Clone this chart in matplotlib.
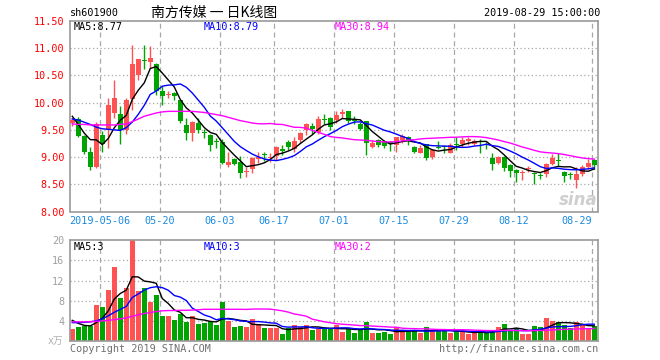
import numpy as np
import pandas as pd
import matplotlib
matplotlib.use("Agg")
import matplotlib.pyplot as plt

# ---------------- data ----------------
opens = [9.62, 9.70, 9.39, 9.09, 8.81, 9.41, 9.50, 9.81, 9.79, 9.49,
         10.06, 10.51, 10.78, 10.74, 10.71, 10.22, 10.14, 10.18, 10.05, 9.59,
         9.45, 9.63, 9.46, 9.41, 9.30, 9.28, 8.85, 8.96, 8.91, 8.72,
         8.79, 8.97, 9.06, 8.98, 9.02, 9.14, 9.28, 9.14, 9.31, 9.49,
         9.57, 9.46, 9.70, 9.72, 9.69, 9.80, 9.84, 9.67, 9.60, 9.66,
         9.18, 9.31, 9.27, 9.26, 9.22, 9.31, 9.37, 9.18, 9.08, 9.24,
         9.01, 9.18, 9.19, 9.08, 9.23, 9.24, 9.29, 9.24, 9.29, 9.23,
         8.99, 8.89, 9.01, 8.86, 8.77, 8.70, 8.78, 8.70, 8.67, 8.68,
         8.87, 8.93, 8.72, 8.68, 8.58, 8.69, 8.82, 8.94]
highs = [9.72, 9.73, 9.41, 9.18, 9.64, 9.48, 10.08, 10.42, 9.93, 10.08,
         11.06, 10.80, 11.06, 11.04, 10.72, 10.30, 10.21, 10.20, 10.05, 9.71,
         9.66, 9.71, 9.51, 9.43, 9.35, 9.34, 9.10, 8.99, 9.02, 8.82,
         9.00, 9.09, 9.10, 9.07, 9.20, 9.22, 9.32, 9.37, 9.46, 9.62,
         9.62, 9.76, 9.79, 9.74, 9.84, 9.88, 9.85, 9.75, 9.65, 9.66,
         9.32, 9.34, 9.31, 9.30, 9.37, 9.42, 9.38, 9.20, 9.23, 9.24,
         9.14, 9.29, 9.22, 9.25, 9.37, 9.37, 9.36, 9.33, 9.33, 9.27,
         9.08, 9.02, 9.02, 8.88, 8.79, 8.76, 8.84, 8.73, 8.71, 8.89,
         9.05, 9.08, 8.75, 8.73, 8.81, 8.85, 8.97, 8.96]
lows = [9.58, 9.36, 9.06, 8.76, 8.80, 9.10, 9.17, 9.71, 9.24, 9.43,
        9.87, 10.42, 10.61, 10.63, 10.14, 9.96, 10.08, 10.05, 9.63, 9.32,
        9.30, 9.45, 9.35, 9.12, 9.16, 8.87, 8.82, 8.86, 8.62, 8.64,
        8.70, 8.90, 8.93, 8.91, 8.95, 9.04, 9.13, 9.10, 9.25, 9.40,
        9.43, 9.43, 9.60, 9.50, 9.62, 9.71, 9.63, 9.60, 9.49, 9.04,
        9.16, 9.18, 9.17, 9.11, 9.10, 9.26, 9.23, 9.07, 9.07, 8.95,
        8.96, 9.14, 9.07, 9.07, 9.13, 9.19, 9.22, 9.22, 9.08, 9.14,
        8.77, 8.87, 8.75, 8.64, 8.55, 8.57, 8.73, 8.51, 8.59, 8.63,
        8.85, 8.84, 8.55, 8.60, 8.43, 8.66, 8.79, 8.79]
closes = [9.68, 9.39, 9.10, 8.81, 9.60, 9.24, 9.96, 10.08, 9.50, 10.05,
          10.71, 10.80, 10.76, 10.82, 10.22, 10.12, 10.16, 10.12, 9.67, 9.45,
          9.65, 9.50, 9.44, 9.22, 9.28, 8.90, 8.91, 8.87, 8.70, 8.74,
          8.99, 9.00, 9.04, 9.01, 9.19, 9.12, 9.19, 9.29, 9.45, 9.60,
          9.51, 9.70, 9.69, 9.56, 9.77, 9.82, 9.66, 9.66, 9.51, 9.26,
          9.26, 9.22, 9.21, 9.25, 9.37, 9.38, 9.29, 9.09, 9.17, 8.99,
          9.13, 9.17, 9.18, 9.22, 9.22, 9.32, 9.33, 9.29, 9.28, 9.22,
          8.88, 9.01, 8.80, 8.75, 8.71, 8.72, 8.80, 8.69, 8.66, 8.88,
          8.99, 8.92, 8.65, 8.67, 8.68, 8.81, 8.89, 8.86]
volumes = [2.3, 2.75, 3.0, 2.95, 7.2, 6.7, 10.1, 14.7, 8.5, 10.5,
           20.0, 9.9, 10.6, 7.7, 9.1, 4.9, 4.9, 4.25, 5.35, 3.7,
           4.9, 3.3, 3.55, 4.0, 3.25, 7.7, 3.9, 2.75, 2.9, 2.7,
           4.4, 3.45, 2.5, 2.5, 2.5, 1.3, 2.5, 3.25, 2.8, 3.25,
           2.25, 2.4, 2.35, 2.33, 3.2, 1.87, 2.4, 1.67, 2.2, 3.87,
           1.67, 1.67, 1.87, 1.33, 2.73, 1.87, 1.87, 2.07, 1.53, 2.87,
           2.0, 2.07, 2.0, 1.53, 2.2, 1.87, 1.33, 1.53, 1.87, 1.67,
           2.2, 2.73, 3.4, 2.0, 2.53, 1.33, 1.33, 3.07, 2.73, 4.53,
           4.07, 3.73, 3.2, 2.53, 3.87, 3.33, 2.33, 3.0]

# moving-average values at the first candles (their windows start before the chart)
ma5_head = [9.75, 9.60, 9.44, 9.32]
ma10_head = [9.70, 9.68, 9.64, 9.60, 9.55, 9.52, 9.51, 9.50, 9.49]
ma30_head = [9.61, 9.60, 9.60, 9.59, 9.59, 9.59, 9.59, 9.59, 9.60, 9.61,
             9.65, 9.70, 9.75, 9.78, 9.81, 9.83, 9.84, 9.84, 9.84, 9.84,
             9.84, 9.83, 9.82, 9.80, 9.78, 9.76, 9.73, 9.70, 9.67]
vma5_head = [4.1, 3.5, 3.1, 3.0]
vma10_head = [3.65, 3.65, 3.7, 3.8, 4.0, 4.4, 5.0, 5.7, 6.3]
vma30_head = [3.8, 3.8, 3.8, 3.85, 3.9, 4.0, 4.1, 4.25, 4.4, 4.6,
              4.9, 5.2, 5.45, 5.65, 5.85, 6.0, 6.05, 6.05, 6.1, 6.1,
              6.15, 6.2, 6.3, 6.3, 6.3, 6.3, 6.3, 6.3, 6.3]

date_labels = ["2019-05-06", "05-20", "06-03", "06-17", "07-01",
               "07-15", "07-29", "08-12", "08-29"]
date_index = [5, 15, 25, 34, 44, 54, 64, 74, 87]
price_ticks = [8.00, 8.50, 9.00, 9.50, 10.00, 10.50, 11.00, 11.50]
vol_ticks = [4, 8, 12, 16, 20]
price_ma_text = ["MA5:8.77", "MA10:8.79", "MA30:8.94"]
vol_ma_text = ["MA5:3", "MA10:3", "MA30:2"]

# ---------------- helpers ----------------
def moving_average(values, n, head):
    s = pd.Series(values, dtype=float).rolling(n).mean().to_numpy()
    s[:len(head)] = head
    return s

RED = "#ff5252"
GREEN = "#00a400"
GRID = "#a8a8a8"
MONO = "DejaVu Sans Mono"
W, H = 660, 360

x = np.arange(len(closes))
o = np.array(opens); c = np.array(closes)
hi = np.array(highs); lo = np.array(lows)
up = c >= o
colors = np.where(up, RED, GREEN)

fig = plt.figure(figsize=(6.6, 3.6), dpi=100)
fig.patch.set_facecolor("white")

def px_axes(x0, y0, x1, y1):
    return fig.add_axes([x0 / W, 1 - y1 / H, (x1 - x0) / W, (y1 - y0) / H])

ax = px_axes(70, 21, 598, 211.5)
axv = px_axes(70, 240.3, 598, 341)

xlim = (-0.38, 87.62)
grid_x = [i - 0.35 for i in date_index]

for a in (ax, axv):
    a.set_xlim(*xlim)
    for s in a.spines.values():
        s.set_color("#9a9a9a")
        s.set_linewidth(1.2)
    a.tick_params(length=0)
    for gx in grid_x:
        a.axvline(gx, color=GRID, lw=0.9, dashes=(4, 3), zorder=0)

# ---- price panel ----
ax.set_ylim(8.0, 11.5)
ax.set_yticks(price_ticks)
ax.set_yticklabels([f"{t:.2f}" for t in price_ticks], color="#ff0000",
                   fontsize=7.3, family=MONO)
ax.tick_params(axis="y", pad=4)
for t in price_ticks[1:-1]:
    ax.axhline(t, color=GRID, lw=0.9, dashes=(1, 2), zorder=0)

ax.vlines(x, lo, hi, colors=colors, lw=1.0, zorder=2)
body = np.maximum(np.abs(c - o), 0.018)
ax.bar(x, body, bottom=np.minimum(o, c), width=0.8, color=colors,
       linewidth=0, zorder=3)

ma5 = moving_average(closes, 5, ma5_head)
ma10 = moving_average(closes, 10, ma10_head)
ma30 = moving_average(closes, 30, ma30_head)
ax.plot(x, ma5, color="black", lw=1.0, zorder=4)
ax.plot(x, ma10, color="#0000ff", lw=1.0, zorder=4)
ax.plot(x, ma30, color="#ff00ff", lw=1.0, zorder=4)

ax.set_xticks(grid_x)
ax.set_xticklabels(date_labels, color="#1a8ae0", fontsize=7.3, family=MONO)
ax.tick_params(axis="x", pad=3)
ax.get_xticklabels()[-1].set_ha("right")

# ---- volume panel ----
axv.set_ylim(0, 20)
axv.set_yticks(vol_ticks)
axv.set_yticklabels([str(t) for t in vol_ticks], color="#a0a0a0",
                    fontsize=7.3, family=MONO)
axv.tick_params(axis="y", pad=4)
axv.set_xticks([])
for t in vol_ticks[:-1]:
    axv.axhline(t, color=GRID, lw=0.9, dashes=(1, 2), zorder=0)
axv.bar(x, volumes, width=0.8, color=colors, linewidth=0, zorder=2)
vma5 = moving_average(volumes, 5, vma5_head)
vma10 = moving_average(volumes, 10, vma10_head)
vma30 = moving_average(volumes, 30, vma30_head)
axv.plot(x, vma5, color="black", lw=1.0, zorder=4)
axv.plot(x, vma10, color="#0000ff", lw=1.0, zorder=4)
axv.plot(x, vma30, color="#ff00ff", lw=1.0, zorder=4)

# ---- texts ----
def ftext(px, py, s, **kw):
    fig.text(px / W, 1 - py / H, s, va="center", **kw)

ftext(70, 13, "sh601900", ha="left", fontsize=7.3, family=MONO, color="black")
ftext(151, 13, "南方传媒 一 日K线图", ha="left", fontsize=10,
      family=["Noto Sans CJK SC", "DejaVu Sans"], color="black")
ftext(600, 13, "2019-08-29 15:00:00", ha="right", fontsize=7.3, family=MONO,
      color="black")

ma_cols = ["black", "#0000ff", "#ff00ff"]
for px_, s, col in zip([74, 204, 335], price_ma_text, ma_cols):
    ftext(px_, 27, s, ha="left", fontsize=7.3, family=MONO, color=col)
for px_, s, col in zip([74, 204, 335], vol_ma_text, ma_cols):
    ftext(px_, 247, s, ha="left", fontsize=7.3, family=MONO, color=col)

ftext(63, 341, "x万", ha="right", fontsize=7,
      family=[MONO, "Noto Sans CJK SC"], color="#b0b0b0")
ftext(70, 349, "Copyright 2019 SINA.COM", ha="left", fontsize=7.3, family=MONO,
      color="#707070")
ftext(598, 349, "http://finance.sina.com.cn", ha="right", fontsize=7.3,
      family=MONO, color="#707070")
ftext(578, 200, "sina", ha="center", fontsize=12, fontweight="bold",
      style="italic", color="#cfcfcf", family="DejaVu Sans")

fig.savefig("out.png", dpi=100)
